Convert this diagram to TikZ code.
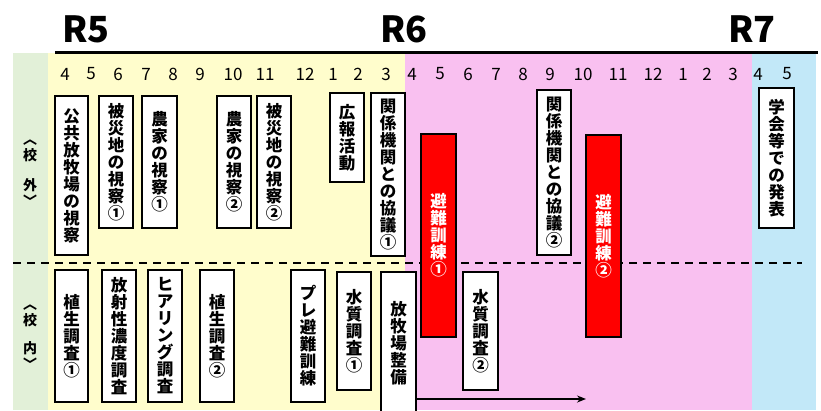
\documentclass[tikz,border=0pt]{standalone}
\usepackage{fontspec}
\newfontfamily\jp{Noto Sans CJK JP}
\usetikzlibrary{arrows.meta}
\definecolor{bgyellow}{RGB}{255,253,204}
\definecolor{bgpink}{RGB}{249,192,240}
\definecolor{bgblue}{RGB}{194,232,248}
\definecolor{bggreen}{RGB}{226,240,216}
\newcommand{\vbx}[7][vbox]{\node[#1, minimum width={(#5-#3)*1pt}, minimum height={(#6-#4)*1pt}] (#2) at ({(#3+#5)/2},{(#4+#6)/2}) {#7};}
\begin{document}
\begin{tikzpicture}[x=1pt,y=-1pt,
  vbox/.style={draw=black, line width=1.3pt, fill=white, align=center, inner sep=0pt, font=\jp\bfseries\fontsize{16.5}{17}\selectfont},
  redbox/.style={vbox, fill=red, text=white},
  month/.style={font=\jp\fontsize{17}{17}\selectfont, inner sep=0pt},
  yearlbl/.style={font=\jp\bfseries\fontsize{36}{36}\selectfont, inner sep=0pt},
  side/.style={font=\jp\bfseries\fontsize{14}{15.5}\selectfont, align=center, inner sep=0pt}]
\clip (0,0) rectangle (821,410);
\fill[white] (0,0) rectangle (821,410);
\fill[bggreen] (13,53) rectangle (48,410);
\fill[bgyellow] (48,53) rectangle (405,410);
\fill[bgpink] (405,53) rectangle (752,410);
\fill[bgblue] (752,53) rectangle (816,410);
\draw[line width=3pt] (55,52) -- (818,52);
\draw[line width=1.5pt, dash pattern=on 8pt off 6pt] (13,263) -- (802,263);
% years
\node[yearlbl] (r5) at (86,29) {R5};
\node[yearlbl] (r6) at (404,29) {R6};
\node[yearlbl] (r7) at (752,29) {R7};
% months
\foreach \m/\x [count=\i] in {4/65,5/91,6/118,7/146,8/173,9/200,10/233,11/265,12/305,1/333,2/358,3/386,4/412,5/440,6/468,7/496,8/523,9/550,10/583,11/618,12/653,1/683,2/707,3/733,4/758,5/787}
  \node[month] (m\i) at (\x,74) {\m};
% side labels
\node[side] (gaib) at (30,173) {︿\\校\\[15pt]外\\﹀};
\node[side] (naib) at (30,337) {︿\\校\\[13pt]内\\﹀};
% upper boxes
\vbx{koukyo}{55}{96}{88}{255}{公\\共\\放\\牧\\場\\の\\視\\察}
\vbx{hisai1}{99}{96}{133}{228}{被\\災\\地\\の\\視\\察\\①}
\vbx{nouka1}{142}{96}{177}{228}{農\\家\\の\\視\\察\\①}
\vbx{nouka2}{217}{96}{251}{228}{農\\家\\の\\視\\察\\②}
\vbx{hisai2}{257}{96}{291}{228}{被\\災\\地\\の\\視\\察\\②}
\vbx{kouhou}{330}{93}{364}{182}{広\\報\\活\\動}
\vbx{kyougi1}{371}{93}{405}{256}{関\\係\\機\\関\\と\\の\\協\\議\\①}
\vbx[redbox]{hinan1}{421}{134}{456}{337}{避\\難\\訓\\練\\①}
\vbx{kyougi2}{537}{90}{571}{255}{関\\係\\機\\関\\と\\の\\協\\議\\②}
\vbx[redbox]{hinan2}{586}{135}{621}{337}{避\\難\\訓\\練\\②}
\vbx{gakkai}{759}{88}{794}{228}{学\\会\\等\\で\\の\\発\\表}
% lower boxes
\vbx{shokusei1}{55}{270}{88}{402}{植\\生\\調\\査\\①}
\vbx{housha}{102}{270}{136}{402}{放\\射\\性\\濃\\度\\調\\査}
\vbx{hearing}{148}{270}{182}{402}{ヒ\\ア\\リ\\ン\\グ\\調\\査}
\vbx{shokusei2}{200}{270}{234}{402}{植\\生\\調\\査\\②}
\vbx{pure}{291}{270}{325}{402}{プ\\レ\\避\\難\\訓\\練}
\vbx{suishitsu1}{337}{272}{371}{390}{水\\質\\調\\査\\①}
\vbx{seibi}{381}{272}{416}{414}{放\\牧\\場\\整\\備}
\vbx{suishitsu2}{463}{272}{498}{390}{水\\質\\調\\査\\②}
\coordinate (arrowend) at (586,399);
\draw[line width=1.5pt, -{Stealth[length=9pt,width=7pt]}] (seibi.east |- arrowend) -- (arrowend);
\end{tikzpicture}
\end{document}
